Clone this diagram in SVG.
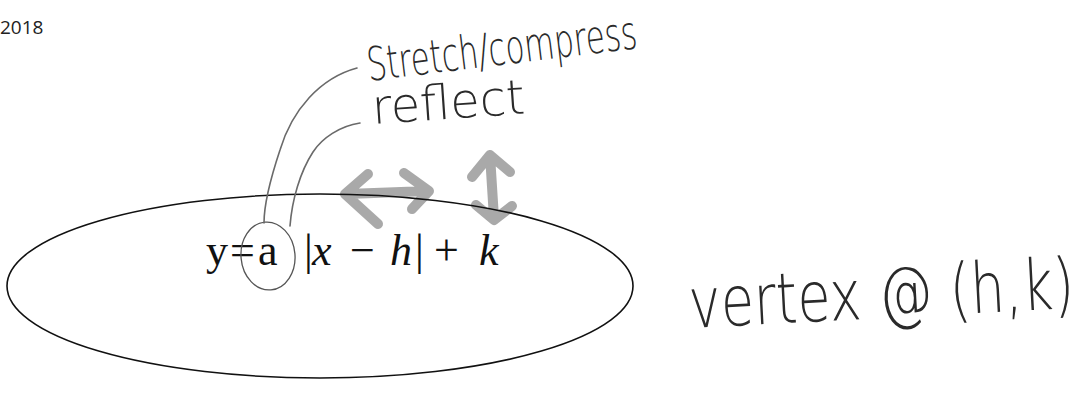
<svg xmlns="http://www.w3.org/2000/svg" width="1084" height="402" viewBox="0 0 1084 402">
<style>
.hand{font-family:"DejaVu Sans","Liberation Sans",sans-serif;fill:#2a2a2a;font-weight:300}
.serif{font-family:"Liberation Serif","DejaVu Serif",serif;fill:#111}
.lead{fill:none;stroke:#6a6a6a;stroke-width:1.6;stroke-linecap:round}
.arr{fill:none;stroke:#a0a0a0;stroke-width:10;stroke-linecap:round;stroke-linejoin:round;opacity:0.9}
</style>
<rect width="1084" height="402" fill="#fff"/>
<g id="date"><text x="0" y="34" font-family="'Open Sans','Liberation Sans',sans-serif" font-size="19" fill="#222">2018</text></g>
<g id="arrows">
<path class="arr" d="M347 194 L428 191 M368 174 L345 194 L378 224 M404 173 L429 191 L412 209"/>
<path class="arr" d="M490 155 L494 218 M472 177 L490 155 L510 172 M476 205 L494 220 L512 206"/>
</g>
<g id="ellipse-node"><ellipse cx="320" cy="286" rx="313" ry="92" fill="none" stroke="#111" stroke-width="1.6"/></g>
<g id="formula">
<text class="serif" font-size="44" y="265"><tspan x="206">y</tspan><tspan x="230">=</tspan><tspan x="258">a</tspan><tspan x="304">|</tspan><tspan x="312" font-style="italic">x</tspan><tspan x="350">−</tspan><tspan x="390" font-style="italic">h</tspan><tspan x="415">|</tspan><tspan x="434">+</tspan><tspan x="479" font-style="italic">k</tspan></text>
</g>
<g id="a-circle"><ellipse cx="268" cy="256" rx="27" ry="34" fill="none" stroke="#555" stroke-width="1.3" transform="rotate(-5 268 256)"/></g>
<g id="connectors">
<path class="lead" d="M357 68 C320 78 292 110 280 150 C270 180 264 205 264 223"/>
<path class="lead" d="M360 123 C340 126 322 138 313 152 C300 172 292 200 290 226"/>
</g>
<g id="label-stretch"><text class="hand" font-size="31" x="0" y="0" transform="translate(369 81) rotate(-7) scale(1 1.5)">Stretch/compress</text></g>
<g id="label-reflect"><text class="hand" font-size="48" x="0" y="0" transform="translate(373 124) rotate(-4)">reflect</text></g>
<g id="label-vertex"><text class="hand" font-size="54" x="0" y="0" transform="translate(690 328) rotate(-3) scale(1 1.3)">vertex @ (h,k)</text></g>
</svg>
